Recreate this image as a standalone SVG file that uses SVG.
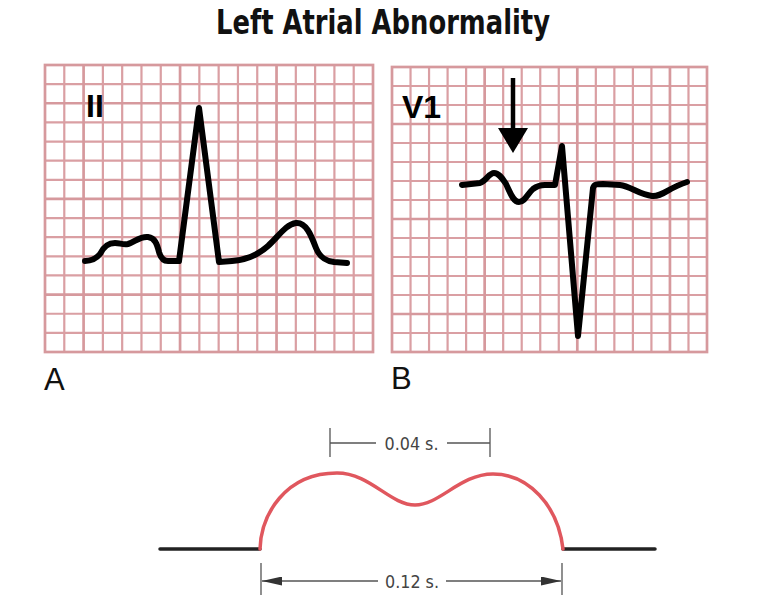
<svg xmlns="http://www.w3.org/2000/svg" width="776" height="612" viewBox="0 0 776 612">
<defs>
<style>
.bg{fill:#ffffff}
.gthin{fill:none;stroke:#da9fa3;stroke-width:2.2}
.gthick{fill:none;stroke:#d6999d;stroke-width:2.7}
.trace{fill:none;stroke:#000;stroke-width:6;stroke-linejoin:round;stroke-linecap:round}
.lead{font-family:"Liberation Sans",Arial,sans-serif;font-weight:bold;font-size:32px;fill:#000}
.panel{font-family:"Liberation Sans",Arial,sans-serif;font-size:31px;fill:#111}
.title{font-family:"Liberation Sans Narrow","DejaVu Sans Condensed","Liberation Sans",sans-serif;font-weight:bold;font-size:33px;fill:#111}
.dim{fill:none;stroke:#555;stroke-width:1.3}
.dimtxt{font-family:"Liberation Sans Narrow","DejaVu Sans Condensed","Liberation Sans",sans-serif;font-size:17px;fill:#444}
.base{fill:none;stroke:#222;stroke-width:3.5;stroke-linecap:round}
.wave{fill:none;stroke:#e0575e;stroke-width:3.5;stroke-linecap:round}
</style>
<marker id="arr" viewBox="0 0 20 9" refX="20" refY="4.5" markerWidth="20" markerHeight="9" markerUnits="userSpaceOnUse" orient="auto">
<path d="M0,0 L20,4.5 L0,9 Z" fill="#333"/>
</marker>
</defs>
<rect class="bg" x="0" y="0" width="776" height="612"/>

<g id="title">
<text class="title" x="216" y="34" textLength="334" lengthAdjust="spacingAndGlyphs">Left Atrial Abnormality</text>
</g>

<g id="panelA">
<rect x="45" y="65" width="328" height="287" fill="#fff"/>
<path class="gthin" d="M64.29,65V352M102.88,65V352M122.18,65V352M141.47,65V352M160.76,65V352M199.35,65V352M218.65,65V352M237.94,65V352M257.24,65V352M295.82,65V352M315.12,65V352M334.41,65V352M353.71,65V352
M45,84.13H373M45,122.4H373M45,141.53H373M45,160.67H373M45,179.8H373M45,218.07H373M45,237.2H373M45,256.33H373M45,275.47H373M45,313.73H373M45,332.87H373"/>
<path class="gthick" d="M83.59,65V352M180.06,65V352M276.53,65V352M45,103.27H373M45,198.93H373M45,294.6H373"/>
<rect class="gthick" x="45" y="65" width="328" height="287"/>
<text class="lead" x="86" y="117">II</text>
<path class="trace" d="M85,261 C92,261 96,259 100,254 C104,246 108,243 115,243 C120,243 123,245 128,244 C135,242 140,236 148,237 C155,238 157,244 159,252 C161,259 164,261 168,261 L179,261 L199,108 L219,262 L232,261 C245,260 258,255 268,246 C278,237 286,224 296,223 C306,222 311,235 316,248 C320,258 326,261 334,262 L347,263"/>
<text class="panel" x="44" y="390">A</text>
</g>

<g id="panelB">
<rect x="392" y="67" width="315" height="285" fill="#fff"/>
<path class="gthin" d="M410.53,67V352M429.06,67V352M447.59,67V352M466.12,67V352M503.18,67V352M521.71,67V352M540.24,67V352M558.77,67V352M595.83,67V352M614.36,67V352M632.89,67V352M651.42,67V352M688.48,67V352
M392,86H707M392,105H707M392,143H707M392,162H707M392,181H707M392,200H707M392,238H707M392,257H707M392,276H707M392,295H707M392,333H707"/>
<path class="gthick" d="M484.65,67V352M577.3,67V352M669.95,67V352M392,124H707M392,219H707M392,314H707"/>
<rect class="gthick" x="392" y="67" width="315" height="285"/>
<text class="lead" x="402" y="118">V1</text>
<path d="M513,78 V131" stroke="#000" stroke-width="4.5" fill="none"/>
<polygon points="498,128 528,128 513,153" fill="#000"/>
<path class="trace" d="M462,185 L480,183 C486,181 489,173 494,173 C499,173 502,178 506,184 C510,192 513,202 519,202 C525,202 528,193 533,189 C537,186 540,185 545,185 L555,185 L562,146 L578,336 L593,188 C594,184 597,184 603,184 L620,185 C630,186 640,195 652,196 C662,197 668,188 687,182"/>
<text class="panel" x="391" y="389">B</text>
</g>

<g id="pwave">
<path class="base" d="M160,549 H260 M563,549 H655"/>
<path class="wave" d="M260,549 C261,515 285,473 337,473 C370,473 390,505 415,505 C440,505 460,474 493,474 C528,474 558,505 563,549"/>
</g>

<g id="dimensions">
<path class="dim" d="M330,428 V457 M490,428 V457 M330,443 H376 M447,443 H490"/>
<text class="dimtxt" x="411.5" y="450" text-anchor="middle" textLength="54" lengthAdjust="spacingAndGlyphs">0.04 s.</text>
<path class="dim" d="M378,581 H262" marker-end="url(#arr)"/>
<path class="dim" d="M446,581 H561" marker-end="url(#arr)"/>
<path class="dim" d="M261,563 V595 M562,563 V595"/>
<text class="dimtxt" x="412" y="588" text-anchor="middle" textLength="54" lengthAdjust="spacingAndGlyphs">0.12 s.</text>
</g>
</svg>
